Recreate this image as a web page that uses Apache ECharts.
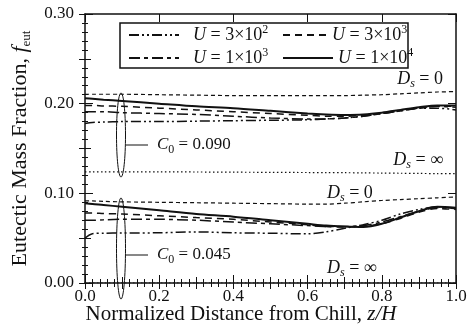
<!DOCTYPE html>
<html><head><meta charset="utf-8">
<script src="https://cdn.jsdelivr.net/npm/echarts@6/dist/echarts.min.js"></script>
<style>html,body{margin:0;padding:0;background:#fff}#c{width:470px;height:335px}</style>
</head><body><div id="c"></div>
<script>
// Normalized distance from chill z/H
const z = [0, 0.02, 0.05, 0.1, 0.2, 0.3, 0.4, 0.5, 0.6, 0.65, 0.7, 0.75, 0.8, 0.85, 0.9, 0.95, 1.0];
// C0 = 0.090 group
const hi_U1e4 = [0.206,0.2055,0.2045,0.203,0.200,0.197,0.195,0.192,0.189,0.188,0.1875,0.188,0.190,0.193,0.196,0.198,0.198];
const hi_U3e3 = [0.198,0.198,0.1975,0.197,0.195,0.193,0.191,0.189,0.187,0.186,0.186,0.187,0.189,0.192,0.195,0.197,0.197];
const hi_U1e3 = [0.191,0.191,0.191,0.190,0.189,0.188,0.186,0.184,0.183,0.183,0.184,0.186,0.189,0.192,0.195,0.197,0.196];
const hi_U3e2 = [0.178,0.179,0.1795,0.180,0.180,0.1805,0.181,0.1815,0.182,0.183,0.184,0.186,0.189,0.192,0.195,0.195,0.193];
const hi_Ds0  = [0.2105,0.2105,0.2105,0.2105,0.210,0.2095,0.209,0.209,0.209,0.209,0.209,0.2095,0.210,0.211,0.212,0.213,0.2135];
const hi_DsInf= [0.124,0.124,0.124,0.124,0.124,0.1238,0.1236,0.1234,0.1232,0.123,0.123,0.1228,0.1226,0.1224,0.1222,0.122,0.122];
// C0 = 0.045 group
const lo_U1e4 = [0.089,0.088,0.087,0.085,0.081,0.077,0.074,0.070,0.066,0.064,0.063,0.0625,0.066,0.073,0.080,0.085,0.084];
const lo_U3e3 = [0.078,0.078,0.0775,0.077,0.075,0.073,0.071,0.068,0.065,0.063,0.0625,0.063,0.066,0.072,0.079,0.083,0.082];
const lo_U1e3 = [0.070,0.070,0.0705,0.071,0.071,0.070,0.068,0.066,0.064,0.063,0.063,0.064,0.068,0.074,0.080,0.084,0.083];
const lo_U3e2 = [0.050,0.055,0.0555,0.0557,0.056,0.057,0.056,0.0555,0.0548,0.057,0.061,0.065,0.070,0.077,0.082,0.085,0.083];
const lo_Ds0  = [0.0915,0.0915,0.091,0.0905,0.090,0.0895,0.089,0.0885,0.088,0.088,0.089,0.0905,0.092,0.093,0.094,0.095,0.096];
const lo_DsInf= [0,0,0,0,0,0,0,0,0,0,0,0,0,0,0,0,0];
// tick labels
const xTicks = [0.0, 0.2, 0.4, 0.6, 0.8, 1.0];
const yTicks = [0.00, 0.10, 0.20, 0.30];
const legendNames = ['U3e2','U3e3','U1e3','U1e4'];
const legendLabels = {
  U3e2: '{i|U} = 3×10{p|2}', U3e3: '{i|U} = 3×10{p|3}',
  U1e3: '{i|U} = 1×10{p|3}', U1e4: '{i|U} = 1×10{p|4}'
};

const FF = '"Liberation Serif", "Times New Roman", serif';
const INK = '#111';
const styles = {
  U3e2: {type:[10,3,2,3,2,3], width:1.5},
  U3e3: {type:[7,5], width:1.5},
  U1e3: {type:[11,4,4,4], width:1.5},
  U1e4: {type:'solid', width:2},
  Ds0:  {type:[4,3], width:1.2},
  DsInf:{type:[1.5,2.5], width:1.2}
};
const pairs = a => z.map((x,i)=>[x,a[i]]);
function S(name, arr, key){
  return {name:name, type:'line', data:pairs(arr), symbol:'none', smooth:0.3,
    lineStyle:Object.assign({color:INK}, styles[key]), itemStyle:{color:INK}, z:3, silent:true};
}
const series = [
  S('U3e2', hi_U3e2, 'U3e2'), S('U3e3', hi_U3e3, 'U3e3'), S('U1e3', hi_U1e3, 'U1e3'), S('U1e4', hi_U1e4, 'U1e4'),
  S('Ds0a', hi_Ds0, 'Ds0'), S('DsInfa', hi_DsInf, 'DsInf'),
  S('U3e2', lo_U3e2, 'U3e2'), S('U3e3', lo_U3e3, 'U3e3'), S('U1e3', lo_U1e3, 'U1e3'), S('U1e4', lo_U1e4, 'U1e4'),
  S('Ds0b', lo_Ds0, 'Ds0'), S('DsInfb', lo_DsInf, 'DsInf')
];

const axisLine = {show:true, onZero:false, lineStyle:{color:INK, width:1.5}};
const tickStyle = {color:INK, width:1};
function xAx(pos, interval, len, labels){
  return {type:'value', min:0, max:1, interval:interval, position:pos,
    axisLine: labels!==null ? axisLine : {show:false},
    axisTick:{show:true, inside:true, length:len, lineStyle:tickStyle},
    splitLine:{show:false},
    axisLabel: labels ? {show:true, formatter:v=>xTicks.includes(+v.toFixed(1)) ? v.toFixed(1) : '', fontFamily:FF, fontSize:17, color:INK, margin:5} : {show:false}
  };
}
function yAx(pos, interval, len, labels){
  return {type:'value', min:0, max:0.3, interval:interval, position:pos,
    axisLine: labels!==null ? axisLine : {show:false},
    axisTick:{show:true, inside:true, length:len, lineStyle:tickStyle},
    splitLine:{show:false},
    axisLabel: labels ? {show:true, formatter:v=>yTicks.includes(+v.toFixed(2)) ? v.toFixed(2) : '', fontFamily:FF, fontSize:17, color:INK, margin:11} : {show:false}
  };
}
const xAxes = [
  xAx('bottom', 0.2, 8, true),
  xAx('bottom', 0.1, 6, null),
  xAx('bottom', 0.02, 4, null),
  xAx('top', 0.2, 8, false),
  xAx('top', 0.1, 6, null),
  xAx('top', 0.02, 4, null)
];
const yAxes = [
  yAx('left', 0.1, 8, true),
  yAx('left', 0.05, 6, null),
  yAx('left', 0.01, 3, null),
  yAx('right', 0.1, 8, false),
  yAx('right', 0.05, 6, null),
  yAx('right', 0.01, 3, null)
];
yAxes[0].name = '{r|Eutectic Mass Fraction, }{i|f}{s|eut}';
yAxes[0].nameLocation = 'middle';
yAxes[0].nameGap = 52;
yAxes[0].nameTextStyle = {fontFamily:FF, fontSize:22, color:INK,
  rich:{r:{fontFamily:FF, fontSize:22, color:INK, lineHeight:26},
        i:{fontFamily:FF, fontSize:22, color:INK, fontStyle:'italic', lineHeight:26},
        s:{fontFamily:FF, fontSize:13, color:INK, lineHeight:14, verticalAlign:'bottom'}}};

const legRich = {i:{fontFamily:FF, fontSize:18, fontStyle:'italic', color:INK, lineHeight:22},
                 p:{fontFamily:FF, fontSize:12, color:INK, lineHeight:12, verticalAlign:'top'}};
const legPos = {U3e2:[128,24], U3e3:[282,24], U1e3:[128,47], U1e4:[282,47]};
const legends = legendNames.map(n => ({
  data:[n], left:legPos[n][0], top:legPos[n][1], padding:0, itemWidth: n==='U3e3'?44:50, itemHeight:14,
  selectedMode:false, itemStyle:{opacity:0},
  formatter: nm => legendLabels[nm],
  textStyle:{fontFamily:FF, fontSize:18, color:INK, lineHeight:22, rich:legRich,
    padding:[0,0,0, n==='U3e2'||n==='U1e3' ? 9 : (n==='U3e3' ? 0 : 0)]}
}));

function richTxt(fs){
  return {
    r:{fontFamily:FF, fontSize:fs, fill:INK, lineHeight:22},
    i:{fontFamily:FF, fontSize:fs, fill:INK, fontStyle:'italic', lineHeight:22},
    s:{fontFamily:FF, fontSize:12, fill:INK, fontStyle:'italic', lineHeight:12, verticalAlign:'bottom'},
    n:{fontFamily:FF, fontSize:12, fill:INK, lineHeight:12, verticalAlign:'bottom'}
  };
}
function label(x, y, text, align, fs){
  fs = fs || 18;
  return {type:'text', x:x, y:y, z:20, silent:true,
    style:{text:text, fontFamily:FF, fontSize:fs, fill:INK, rich:richTxt(fs), align:align||'left', verticalAlign:'middle'}};
}
const graphic = [
  {type:'rect', shape:{x:120, y:23, width:288, height:45}, style:{fill:'#fff', stroke:INK, lineWidth:1.5}, z:0, silent:true},
  {type:'ellipse', shape:{cx:121, cy:135, rx:4.5, ry:42}, style:{fill:'none', stroke:INK, lineWidth:1}, z:20, silent:true},
  {type:'ellipse', shape:{cx:121, cy:248.5, rx:4.5, ry:50.5}, style:{fill:'none', stroke:INK, lineWidth:1}, z:20, silent:true},
  {type:'line', shape:{x1:126, y1:145, x2:148, y2:145}, style:{stroke:INK, lineWidth:1}, z:20, silent:true},
  {type:'line', shape:{x1:126, y1:255, x2:148, y2:255}, style:{stroke:INK, lineWidth:1}, z:20, silent:true},
  label(157, 145, '{i|C}{n|0}{r| = 0.090}', 'left', 17),
  label(157, 255, '{i|C}{n|0}{r| = 0.045}', 'left', 17),
  label(443, 79, '{i|D}{s|s}{r| = 0}', 'right'),
  label(443, 160, '{i|D}{s|s}{r| = ∞}', 'right'),
  label(327, 193, '{i|D}{s|s}{r| = 0}'),
  label(327, 268, '{i|D}{s|s}{r| = ∞}'),
  label(241, 314, '{r|Normalized Distance from Chill, }{i|z/H}', 'center', 21)
];

const chart = echarts.init(document.getElementById('c'), null, {renderer:'canvas'});
chart.setOption({
  animation:false,
  backgroundColor:'#fff',
  grid:{left:85, right:14, top:14, bottom:52, containLabel:false},
  xAxis:xAxes, yAxis:yAxes,
  legend:legends,
  series:series,
  graphic:graphic
});
</script></body></html>
